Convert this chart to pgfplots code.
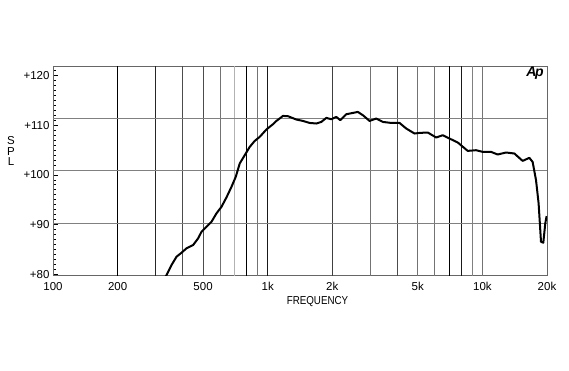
\documentclass[border=0pt]{standalone}
\usepackage{fontspec}
\setmainfont{Liberation Sans}
\usepackage{pgfplots}
\pgfplotsset{compat=1.18}
\begin{document}
\begin{tikzpicture}[x=1pt,y=1pt]
\useasboundingbox (0,0) rectangle (569,370);
\begin{axis}[
  at={(53pt,94.3pt)}, anchor=south west,
  scale only axis, width=494pt, height=209.7pt,
  xmode=log, xmin=100, xmax=20000, ymin=80, ymax=120,
  xtick={100,200,500,1000,2000,5000,10000,20000},
  xticklabels={100,200,500,1k,2k,5k,10k,20k},
  minor xtick={},
  major x tick style={draw=none},
  ytick={80.27,89.755,99.24,108.725,118.21},
  yticklabels={+80,+90,+100,+110,+120},
  minor ytick={80.27,81.2185,...,120},
  tick pos=left, tick align=inside,
  major tick length=5pt, minor tick length=3pt,
  every tick/.style={black, line width=0.6pt},
  axis line style={black!60, line width=0.8pt},
  tick label style={font=\fontsize{11.5}{13}\selectfont},
  x tick label style={yshift=-3pt},
  /pgf/number format/assume math mode=true,
  xlabel={FREQUENCY},
  xlabel style={at={(axis description cs:0.5354,-0.124)}, anchor=center, font=\fontsize{11.5}{13}\selectfont, xscale=0.85},
]
% vertical grid
\draw[black, line width=1pt] (axis cs:200,80) -- (axis cs:200,120);
\draw[black!85, line width=0.9pt] (axis cs:300,80) -- (axis cs:300,120);
\draw[black!70, line width=0.9pt] (axis cs:400,80) -- (axis cs:400,120);
\draw[black!70, line width=0.8pt] (axis cs:500,80) -- (axis cs:500,120);
\draw[black!55, line width=0.8pt] (axis cs:600,80) -- (axis cs:600,120);
\draw[black!30, line width=0.8pt] (axis cs:700,80) -- (axis cs:700,120);
\draw[black, line width=1pt] (axis cs:800,80) -- (axis cs:800,120);
\draw[black!55, line width=0.8pt] (axis cs:900,80) -- (axis cs:900,120);
\draw[black!90, line width=0.9pt] (axis cs:1000,80) -- (axis cs:1000,120);
\draw[black!75, line width=0.8pt] (axis cs:2000,80) -- (axis cs:2000,120);
\draw[black!55, line width=0.8pt] (axis cs:3000,80) -- (axis cs:3000,120);
\draw[black!70, line width=0.8pt] (axis cs:4000,80) -- (axis cs:4000,120);
\draw[black!55, line width=0.8pt] (axis cs:5000,80) -- (axis cs:5000,120);
\draw[black!55, line width=0.8pt] (axis cs:6000,80) -- (axis cs:6000,120);
\draw[black, line width=1pt] (axis cs:7000,80) -- (axis cs:7000,120);
\draw[black!90, line width=1pt] (axis cs:8000,80) -- (axis cs:8000,120);
\draw[black!50, line width=0.8pt] (axis cs:9000,80) -- (axis cs:9000,120);
\draw[black!55, line width=0.8pt] (axis cs:10000,80) -- (axis cs:10000,120);
% horizontal grid
\draw[black!50, line width=0.8pt] (axis cs:100,90) -- (axis cs:20000,90);
\draw[black!50, line width=0.8pt] (axis cs:100,100) -- (axis cs:20000,100);
\draw[black!50, line width=0.8pt] (axis cs:100,110) -- (axis cs:20000,110);
\addplot[black, line width=2pt, line join=round] coordinates {
(330,79.5) (338,80.13) (356.5,82.04) (376.1,83.62) (396.8,84.38) (418.7,85.22)
(449.4,85.85) (474.2,87.12) (491.7,88.38) (518.7,89.33) (547.3,90.29) (577.4,91.89)
(609.1,93.14) (642.6,94.93) (678.0,96.95) (710.0,98.86) (741.0,101.41) (781.7,102.99)
(824.7,104.57) (870.0,105.71) (917.9,106.48) (986.3,107.89) (1058.5,108.90) (1097.6,109.52)
(1178.5,110.48) (1243.1,110.42) (1360,109.79) (1460,109.52) (1568,109.14) (1685,109.03)
(1777,109.33) (1875,110.10) (1978,109.85) (2087,110.29) (2178,109.66) (2323,110.80)
(2493,111.05) (2630,111.24) (2776,110.61) (2982,109.52) (3203,109.98) (3439,109.33)
(3761,109.14) (4111,109.14) (4417,108.08) (4828,107.12) (5093,107.24) (5567,107.31)
(6091,106.36) (6537,106.80) (7023,106.17) (7677,105.41) (8543,103.81) (9348,103.94)
(10033,103.62) (10978,103.62) (11781,103.12) (12891,103.50) (14089,103.31) (15398,101.90)
(16545,102.48) (17140,101.71) (17775,98.23) (18276,93.79) (18749,86.48) (19218,86.29)
(19634,89.98) (19912,91.37)
};
\end{axis}
\node[align=center, font=\fontsize{11.5}{10.5}\selectfont] at (11,219) {S\\P\\L};
\node at (535,296.5) {\fontsize{14}{14}\selectfont\bfseries\itshape A\kern-1.5pt p};
\end{tikzpicture}
\end{document}
